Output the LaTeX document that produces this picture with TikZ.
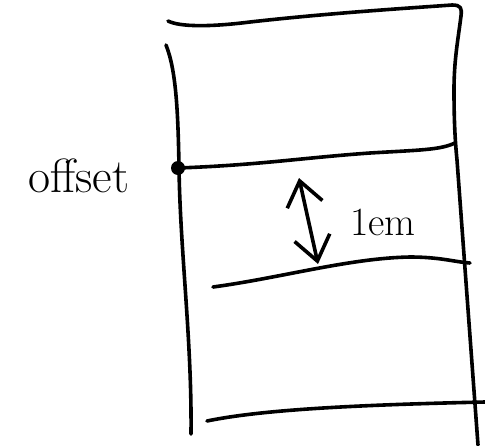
\documentclass[tikz,border=0pt]{standalone}
\usetikzlibrary{arrows.meta}
\begin{document}
\begin{tikzpicture}[x=1pt,y=-1pt,
  pen/.style={line width=3.6pt, line cap=round, line join=round, black},
  barb/.tip={Straight Barb[length=24pt,width=36pt]},
  handtext/.style={font=\fontsize{40}{40}\selectfont, inner sep=0pt}]
\useasboundingbox (0,0) rectangle (485,445);

% top edge turning into the right edge of the block
\draw[pen] (168,21) .. controls (180,27) and (210,27) .. (250,22)
  .. controls (330,13) and (410,8) .. (452,5)
  .. controls (461,5) and (462,8) .. (461,16)
  .. controls (458,40) and (454,60) .. (454,90)
  .. controls (454,120) and (455,140) .. (457,160)
  -- (478,445);

% left edge
\draw[pen] (166,45) .. controls (176,70) and (178,110) .. (179,167)
  .. controls (180,250) and (192,340) .. (191,434);

% horizontal rules
\coordinate (origin) at (178,168);
\draw[pen] (origin) .. controls (260,165) and (300,158) .. (370,153)
  .. controls (420,150) and (440,150) .. (455,143);
\draw[pen] (213,287) .. controls (280,278) and (350,258) .. (410,257)
  .. controls (440,257) and (455,262) .. (470,263);
\draw[pen] (207,421) .. controls (260,410) and (350,405) .. (485,402);

% offset marker
\fill (origin) circle (7);
\node[handtext, font=\fontsize{48}{48}\selectfont] (offset) at (79,176) {offset};

% height of one line
\coordinate (top) at (299,178);
\coordinate (bottom) at (318,264);
\draw[pen, barb-barb] (top) -- (bottom);
\node[handtext] (em) at (383,222) {1em};
\end{tikzpicture}
\end{document}
